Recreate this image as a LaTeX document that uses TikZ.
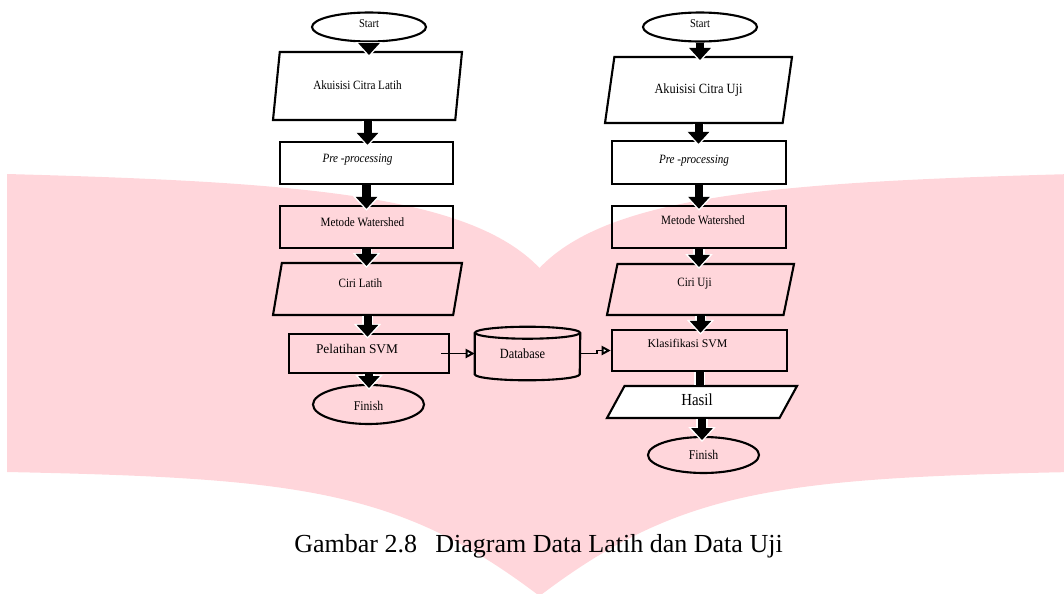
\documentclass[tikz,border=0pt]{standalone}
\usepackage{fontspec}
\setmainfont{Liberation Serif}
\newfontfamily\boxfont{Liberation Serif}[FakeStretch=0.88]
\usetikzlibrary{shapes.geometric,arrows.meta}
\definecolor{wmpink}{RGB}{255,214,219}
\newdimen\px \px=0.025cm
% text set off the centre of its box
\newcommand{\nudge}[3]{\raisebox{#2}[\height][\depth]{\hspace*{#1}#3\hspace*{-#1}}}

\begin{document}
\begin{tikzpicture}[x=0.025cm,y=-0.025cm,
	procbox/.style={draw,rectangle,line width=1.8pt,inner sep=1pt,font=\boxfont\fontsize{9}{11}\selectfont},
	iobox/.style={draw,trapezium,trapezium stretches body,line width=1.5pt,inner sep=1pt,font=\boxfont\fontsize{9}{11}\selectfont},
	terminal/.style={draw,ellipse,line width=1.5pt,inner sep=0pt,minimum width=114\px,font=\boxfont\fontsize{8.5}{10}\selectfont},
	flowarrow/.style={line width=5.7pt,-{Triangle[length=8.5pt,width=15.5pt,line width=0pt]},shorten >=-4\px,
		preaction={draw=white,line width=8.5pt,-{Triangle[length=10.5pt,width=19.5pt,line width=0pt]},shorten >=-6\px}},
	flowline/.style={line width=5.7pt,preaction={draw=white,line width=8.5pt}},
	dataarrow/.style={line width=1.4pt,-{Triangle[length=6.4pt,width=6.4pt,fill=white]}},
	dbline/.style={line width=1.5pt}]
	\useasboundingbox (0,0) rectangle (1064,593);
	% watermark
	\fill[wmpink] (7,174) .. controls (300,182) and (470,195) .. (539.5,268)
		.. controls (609,195) and (779,182) .. (1072,174) -- (1072,472)
		.. controls (779,478) and (679,490) .. (539.5,596)
		.. controls (400,490) and (300,478) .. (7,472) -- cycle;
	
	% data latih
	\node[terminal,minimum height=29\px] (startL) at (369,27) {\nudge{0pt}{3\px}{Start}};
	\node[iobox,minimum width=189\px,minimum height=68\px,trapezium left angle=60,trapezium right angle=120] (akuL) at (367.5,86) {\nudge{-10\px}{1\px}{Akuisisi Citra Latih}};
	\node[procbox,fill=white,minimum width=173\px,minimum height=42\px] (preL) at (366.5,163) {\nudge{-9\px}{3\px}{\textit{Pre -processing}}};
	\node[procbox,minimum width=173\px,minimum height=42\px] (metL) at (366.5,227) {\nudge{-4\px}{5\px}{Metode Watershed}};
	\node[iobox,minimum width=189\px,minimum height=52\px,trapezium left angle=53,trapezium right angle=127] (ciriL) at (367.5,289) {\nudge{-7\px}{6\px}{Ciri Latih}};
	\node[procbox,minimum width=160\px,minimum height=39\px,font=\fontsize{9.5}{11}\selectfont] (pelL) at (369,353.5) {\nudge{-12\px}{5\px}{Pelatihan SVM}};
	\node[terminal,minimum width=111\px,minimum height=39\px,font=\boxfont\fontsize{9.5}{11}\selectfont] (finL) at (368.5,404.5) {\nudge{0pt}{-1\px}{Finish}};
	
	% database
	\node[minimum width=105\px,minimum height=53\px,inner sep=0pt,font=\boxfont\fontsize{10}{12}\selectfont] (db) at (527.5,353.5) {\nudge{-5\px}{0pt}{Database}};
	\draw[dbline] ([yshift=-6\px]db.north) ellipse [x radius=52.5\px,y radius=6\px];
	\draw[dbline] ([yshift=-6\px]db.north west) -- ([yshift=6\px]db.south west)
		arc [start angle=180,end angle=360,x radius=52.5\px,y radius=6\px] -- ([yshift=-6\px]db.north east);
	
	% data uji
	\node[terminal,minimum height=29\px] (startR) at (700,27) {\nudge{0pt}{3\px}{Start}};
	\node[iobox,minimum width=187\px,minimum height=66\px,trapezium left angle=59,trapezium right angle=121,font=\boxfont\fontsize{10}{12}\selectfont] (akuR) at (698.5,90) {Akuisisi Citra Uji};
	\node[procbox,fill=white,minimum width=174\px,minimum height=43\px] (preR) at (699,162.5) {\nudge{-5\px}{2\px}{\textit{Pre -processing}}};
	\node[procbox,minimum width=174\px,minimum height=42\px] (metR) at (699,227) {\nudge{4\px}{7\px}{Metode Watershed}};
	\node[iobox,minimum width=187\px,minimum height=51\px,trapezium left angle=53,trapezium right angle=127] (ciriR) at (700.5,289.5) {\nudge{-6\px}{6\px}{Ciri Uji}};
	\node[procbox,minimum width=175\px,minimum height=41\px,font=\fontsize{8.4}{10}\selectfont] (klaR) at (699.5,350.5) {\nudge{-12\px}{7\px}{Klasifikasi SVM}};
	\node[iobox,fill=white,minimum width=190\px,minimum height=32\px,trapezium left angle=40,trapezium right angle=140,font=\boxfont\fontsize{12}{14}\selectfont] (hasilR) at (702,402) {\nudge{-5\px}{2\px}{Hasil}};
	\node[terminal,minimum width=111\px,minimum height=36\px,font=\boxfont\fontsize{9.5}{11}\selectfont] (finR) at (703.5,455) {Finish};
	
	\draw[flowarrow] (startL.south) -- (startL.south |- akuL.north);
	\draw[flowarrow] (akuL.south) -- (akuL.south |- preL.north);
	\draw[flowarrow] (preL.south) -- (preL.south |- metL.north);
	\draw[flowarrow] (metL.south) -- (metL.south |- ciriL.north);
	\draw[flowarrow] (ciriL.south) -- (ciriL.south |- pelL.north);
	\draw[flowarrow] (pelL.south) -- (pelL.south |- finL.north);
	
	\draw[flowarrow] (startR.south) -- (startR.south |- akuR.north);
	\draw[flowarrow] (akuR.south) -- (akuR.south |- preR.north);
	\draw[flowarrow] (preR.south) -- (preR.south |- metR.north);
	\draw[flowarrow] (metR.south) -- (metR.south |- ciriR.north);
	\draw[flowarrow] (ciriR.south) -- (ciriR.south |- klaR.north);
	\draw[flowline] (klaR.south) -- (klaR.south |- hasilR.north);
	\draw[flowarrow] (hasilR.south) -- (hasilR.south |- finR.north);
	
	\draw[dataarrow,shorten <=-9\px] (pelL.east) -- (db.west);
	\draw[dataarrow] (db.east) -- ++(17,0) |- (klaR.west);
	
	\node[anchor=base,font=\fontsize{18.5}{22}\selectfont] (caption) at (538.5,552) {Gambar 2.8\hspace{0.7em}Diagram Data Latih dan Data Uji};
\end{tikzpicture}
\end{document}
